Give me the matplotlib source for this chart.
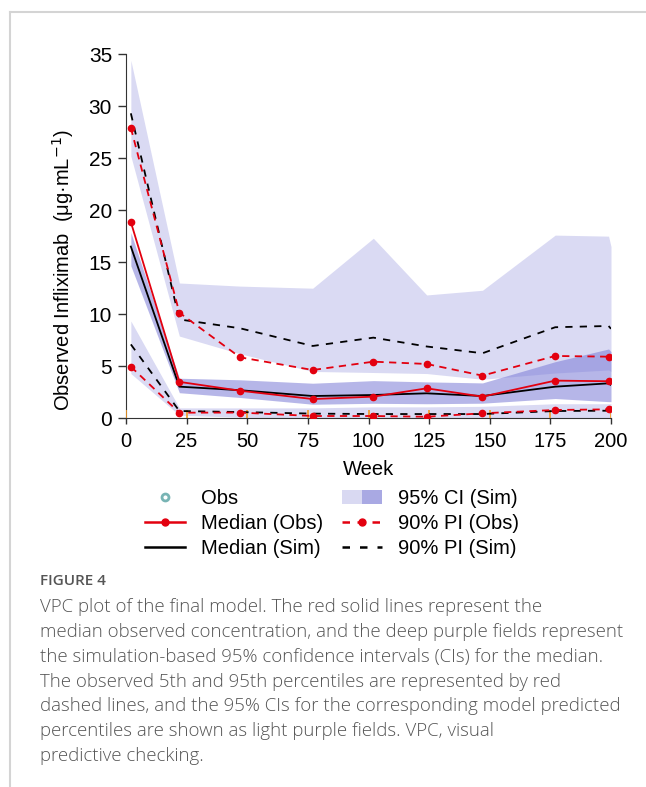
import numpy as np
import matplotlib.pyplot as plt
from matplotlib.lines import Line2D
from matplotlib.patches import Patch
from matplotlib.legend_handler import HandlerTuple

plt.rcParams["font.family"] = ["Liberation Sans", "DejaVu Sans"]

# ----------------------------
# Data
# ----------------------------
# observed summaries (per time bin)
OBS_WEEK = [2, 22, 47, 77, 102, 124, 147, 177, 199]
OBS_MEDIAN = [18.85, 3.5, 2.65, 1.85, 2.08, 2.88, 2.08, 3.62, 3.56]
OBS_P95 = [27.9, 10.15, 5.86, 4.64, 5.44, 5.22, 4.1, 5.99, 5.92]
OBS_P05 = [4.96, 0.54, 0.55, 0.22, 0.22, 0.15, 0.48, 0.8, 0.86]

# simulated summaries
SIM_WEEK = [2, 22, 47, 77, 102, 124, 147, 177, 199, 200]
SIM_MEDIAN = [16.5, 3.04, 2.7, 2.14, 2.24, 2.4, 2.14, 3.04, 3.36, 3.2]
SIM_P95 = [29.3, 9.5, 8.65, 6.95, 7.75, 6.9, 6.25, 8.75, 8.87, 8.6]
SIM_P05 = [7.1, 0.7, 0.6, 0.45, 0.41, 0.41, 0.41, 0.7, 0.73, 0.7]

# 95% CI of simulated percentiles
CI_P95_LO = [25.2, 7.9, 6.2, 4.5, 4.4, 4.3, 3.75, 4.35, 4.64, 4.5]
CI_P95_HI = [34.4, 13.0, 12.7, 12.5, 17.3, 11.85, 12.3, 17.6, 17.5, 16.5]
CI_MED_LO = [14.65, 2.46, 2.0, 1.35, 1.44, 1.4, 1.45, 1.9, 1.6, 1.6]
CI_MED_HI = [17.85, 3.85, 3.7, 3.37, 3.62, 3.5, 3.4, 5.44, 6.66, 6.4]
CI_P05_LO = [4.3, 0.3, 0.1, 0.05, 0.05, 0.05, 0.05, 0.05, 0.05, 0.05]
CI_P05_HI = [9.35, 1.0, 1.0, 1.0, 1.1, 1.1, 1.15, 1.4, 1.4, 1.4]

BIN_EDGES = [0, 25, 50, 75, 100, 125, 150, 175, 200]

CAPTION = (
    "VPC plot of the final model. The red solid lines represent the\n"
    "median observed concentration, and the deep purple fields represent\n"
    "the simulation-based 95% confidence intervals (CIs) for the median.\n"
    "The observed 5th and 95th percentiles are represented by red\n"
    "dashed lines, and the 95% CIs for the corresponding model predicted\n"
    "percentiles are shown as light purple fields. VPC, visual\n"
    "predictive checking."
)

LIGHT = "#d9d9f2"
DEEP = "#a9a9e3"
BAND_BASE = "#7b7bd6"
RED = "#e3000f"
ORANGE = "#f59a23"

fig = plt.figure(figsize=(6.46, 7.87), dpi=100)

# page frame lines (top + left)
fig.add_artist(Line2D([10 / 646, 1], [1 - 11.5 / 787] * 2, color="#d4d4d4", lw=1.5))
fig.add_artist(Line2D([10 / 646] * 2, [0, 1 - 11.5 / 787], color="#d4d4d4", lw=1.5))

ax = fig.add_axes([126 / 646, 1 - 418.3 / 787, 485 / 646, 364.3 / 787])

# bands
ax.fill_between(SIM_WEEK, CI_P95_LO, CI_P95_HI, color=BAND_BASE, alpha=0.28, lw=0)
ax.fill_between(SIM_WEEK, CI_P05_LO, CI_P05_HI, color=BAND_BASE, alpha=0.28, lw=0)
ax.fill_between(SIM_WEEK, CI_MED_LO, CI_MED_HI, color=BAND_BASE, alpha=0.55, lw=0)

# orange bin markers
ax.vlines(BIN_EDGES, 0, 0.8, color=ORANGE, lw=1.2, zorder=3)

# simulated lines
ax.plot(SIM_WEEK, SIM_MEDIAN, color="black", lw=1.3, zorder=4)
ax.plot(SIM_WEEK, SIM_P95, color="black", lw=1.3, ls=(0, (4, 4)), zorder=4)
ax.plot(SIM_WEEK, SIM_P05, color="black", lw=1.3, ls=(0, (4, 4)), zorder=4)

# observed lines
ax.plot(OBS_WEEK, OBS_MEDIAN, color=RED, lw=1.3, marker="o", ms=4.5, zorder=5)
ax.plot(OBS_WEEK, OBS_P95, color=RED, lw=1.3, ls=(0, (4, 3)), marker="o", ms=4.5, zorder=5)
ax.plot(OBS_WEEK, OBS_P05, color=RED, lw=1.3, ls=(0, (4, 3)), marker="o", ms=4.5, zorder=5)

ax.set_xlim(0, 200)
ax.set_ylim(0, 35)
ax.set_xticks(range(0, 201, 25))
ax.set_yticks(range(0, 36, 5))
ax.spines["top"].set_visible(False)
ax.spines["right"].set_visible(False)
ax.spines["left"].set_color("#333333")
ax.spines["bottom"].set_color("#333333")
ax.tick_params(axis="y", labelsize=15, length=6, width=1, color="#333333", pad=4)
ax.tick_params(axis="x", labelsize=14.5, length=4, width=1, color="#333333", pad=6)
ax.set_xlabel("Week", fontsize=14.5, labelpad=6)
ax.set_ylabel("Observed Infliximab  (\u03bcg\u00b7mL$^{-1}$)", fontsize=14.5)
ax.yaxis.set_label_coords(-0.104, 0.407)

# legend
h_obs = Line2D([], [], ls="none", marker="o", mfc="white", mec="#78b4b4", mew=2, ms=5)
h_med_obs = Line2D([], [], color=RED, lw=1.8, marker="o", ms=5)
h_med_sim = Line2D([], [], color="black", lw=1.8)
h_ci = (Patch(color=LIGHT, lw=0), Patch(color=DEEP, lw=0))
h_pi_obs = Line2D([], [], color=RED, lw=1.8, ls=(0, (3, 3)), marker="o", ms=5)
h_pi_sim = Line2D([], [], color="black", lw=1.8, ls=(0, (3, 4)))

fig.legend(
    handles=[h_obs, h_med_obs, h_med_sim, h_ci, h_pi_obs, h_pi_sim],
    labels=["Obs", "Median (Obs)", "Median (Sim)",
            "95% CI (Sim)", "90% PI (Obs)", "90% PI (Sim)"],
    handler_map={tuple: HandlerTuple(ndivide=None, pad=0)},
    ncol=2, frameon=False, fontsize=14.5, handlelength=2.0, handleheight=0.7,
    handletextpad=0.8, columnspacing=0.9, labelspacing=0.3, numpoints=1,
    borderpad=0, borderaxespad=0,
    loc="upper left", bbox_to_anchor=(145 / 646, 1 - 489 / 787),
)

# caption
fig.text(40 / 646, 1 - 581 / 787, "FIGURE 4", fontsize=11, color="#555555",
         family="Open Sans", weight="semibold", va="center")
fig.text(40 / 646, 1 - 598 / 787, CAPTION, fontsize=13.4, color="#555555",
         family="Open Sans", weight="light", va="top", linespacing=1.49)

fig.savefig("out.png", dpi=100)
